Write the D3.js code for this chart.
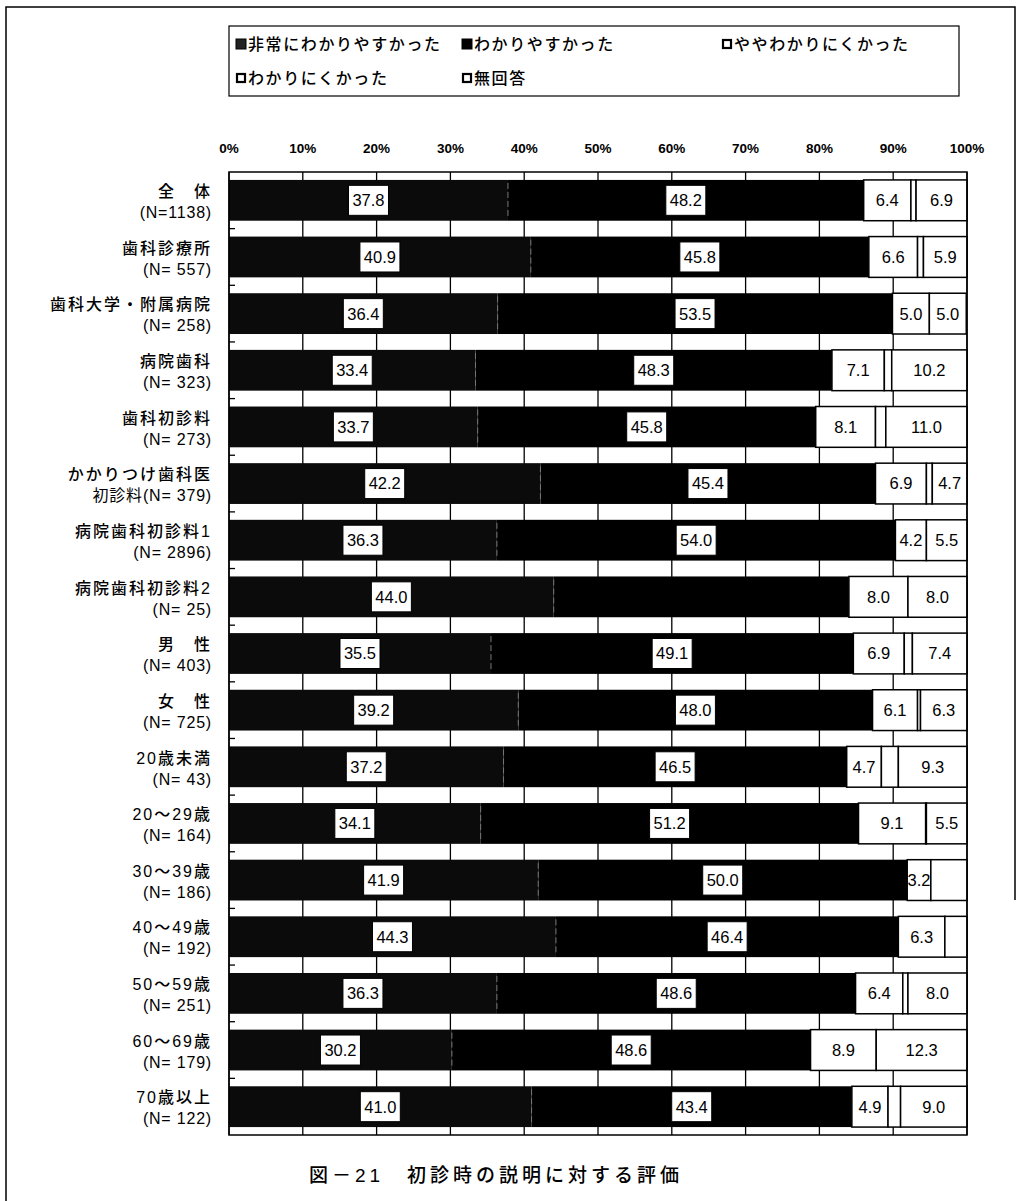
<!DOCTYPE html>
<html><head><meta charset="utf-8">
<script src="https://cdn.jsdelivr.net/npm/d3@7/dist/d3.min.js"></script>
<style>
html,body{margin:0;padding:0;background:#fff;}
svg{display:block;}
text{font-family:"Liberation Sans","Noto Sans CJK JP",sans-serif;fill:#000;}
</style></head>
<body>
<script>
// ---- data ----
const seriesNames = ["非常にわかりやすかった","わかりやすかった","ややわかりにくかった","わかりにくかった","無回答"];
const categoryLine1 = ["全　体","歯科診療所","歯科大学・附属病院","病院歯科","歯科初診料","かかりつけ歯科医","病院歯科初診料1","病院歯科初診料2","男　性","女　性","20歳未満","20～29歳","30～39歳","40～49歳","50～59歳","60～69歳","70歳以上"];
const categoryLine2 = ["(N=1138)","(N= 557)","(N= 258)","(N= 323)","(N= 273)","初診料(N= 379)","(N= 2896)","(N= 25)","(N= 403)","(N= 725)","(N= 43)","(N= 164)","(N= 186)","(N= 192)","(N= 251)","(N= 179)","(N= 122)"];
const veryEasy   = [37.8,40.9,36.4,33.4,33.7,42.2,36.3,44.0,35.5,39.2,37.2,34.1,41.9,44.3,36.3,30.2,41.0];
const easy       = [48.2,45.8,53.5,48.3,45.8,45.4,54.0,40.0,49.1,48.0,46.5,51.2,50.0,46.4,48.6,48.6,43.4];
const ratherHard = [6.4,6.6,5.0,7.1,8.1,6.9,4.2,8.0,6.9,6.1,4.7,9.1,3.2,6.3,6.4,8.9,4.9];
const hard       = [0.7,0.8,0.0,1.0,1.4,0.8,0.0,0.0,1.1,0.4,2.3,0.1,4.9,3.0,0.7,0.0,1.7];
const noAnswer   = [6.9,5.9,5.0,10.2,11.0,4.7,5.5,8.0,7.4,6.3,9.3,5.5,0.0,0.0,8.0,12.3,9.0];
const tickValues = [0,10,20,30,40,50,60,70,80,90,100];
const title = "図－21　初診時の説明に対する評価";
// labels not printed in the reference: [row, series]
const hiddenLabels = [[7,1]];

// ---- layout ----
const W = 1020, H = 1201;
const svg = d3.select("body").append("svg").attr("width", W).attr("height", H);

const rows = categoryLine1.map((c, i) => ({
  idx: i, l1: categoryLine1[i], l2: categoryLine2[i],
  s0: veryEasy[i], s1: easy[i], s2: ratherHard[i], s3: hard[i], s4: noAnswer[i]
}));
const keys = ["s0","s1","s2","s3","s4"];
const stack = d3.stack().keys(keys)(rows);

const x = d3.scaleLinear().domain([0,100]).range([229, 967]);
const y = d3.scaleBand().domain(rows.map(r => r.idx)).range([172, 1135]).paddingInner(0.28).paddingOuter(0.14);

// outer frame
svg.append("path").attr("d", "M6,1201 V7 H1015 V900").attr("fill","none").attr("stroke","#000").attr("stroke-width",1.5);

// legend
svg.append("rect").attr("x",229).attr("y",26).attr("width",730).attr("height",70)
  .attr("fill","none").attr("stroke","#000").attr("stroke-width",1.2);
const legendPos = [[241,44],[467,44],[727,44],[241,78],[467,78]];
seriesNames.forEach((n, i) => {
  const [lx, ly] = legendPos[i];
  const g = svg.append("g");
  if (i < 2) {
    g.append("rect").attr("x",lx-5).attr("y",ly-5).attr("width",10).attr("height",10)
      .attr("fill", i === 0 ? "#222" : "#000").attr("stroke","#000").attr("stroke-width",1);
  } else {
    g.append("rect").attr("x",lx-4).attr("y",ly-4).attr("width",8).attr("height",8)
      .attr("fill","#fff").attr("stroke","#000").attr("stroke-width",2.2);
  }
  g.append("text").attr("x",lx+7).attr("y",ly).attr("dy","0.36em")
    .attr("font-size",16).attr("font-weight",500).attr("letter-spacing","1.6px").text(n);
});

// gridlines
svg.append("g").selectAll("line").data(tickValues).join("line")
  .attr("x1", d => x(d)).attr("x2", d => x(d)).attr("y1",172).attr("y2",1135)
  .attr("stroke","#000").attr("stroke-width",1.3);

// top axis labels
svg.append("g").selectAll("text").data(tickValues).join("text")
  .attr("x", d => x(d)).attr("y",148).attr("dy","0.36em").attr("text-anchor","middle")
  .attr("font-size",13.5).attr("font-weight","bold").text(d => d + "%");

// left band ticks
svg.append("g").selectAll("line").data(d3.range(1, rows.length)).join("line")
  .attr("x1",229).attr("x2",235)
  .attr("y1", i => y(i) - y.step()*y.paddingInner()/2).attr("y2", i => y(i) - y.step()*y.paddingInner()/2)
  .attr("stroke","#000").attr("stroke-width",1.3);

// bars
const fills = ["#0b0b0b","#000","#fff","#fff","#fff"];
stack.forEach((layer, si) => {
  const g = svg.append("g");
  g.selectAll("rect").data(layer).join("rect")
    .attr("x", d => x(d[0])).attr("width", d => Math.max(0, x(d[1]) - x(d[0])))
    .attr("y", d => y(d.data.idx)).attr("height", y.bandwidth())
    .attr("fill", fills[si])
    .attr("stroke", si < 2 ? "none" : "#000").attr("stroke-width", 1.5)
    .attr("display", d => (d[1] - d[0]) > 0 ? null : "none");
});
// separator between first two black segments
svg.append("g").selectAll("line").data(stack[0]).join("line")
  .attr("x1", d => x(d[1])).attr("x2", d => x(d[1]))
  .attr("y1", d => y(d.data.idx)+3).attr("y2", d => y(d.data.idx)+y.bandwidth()-3)
  .attr("stroke","#777").attr("stroke-width",1).attr("stroke-dasharray","6,3");

// plot border
svg.append("rect").attr("x",229).attr("y",172).attr("width",738).attr("height",963)
  .attr("fill","none").attr("stroke","#000").attr("stroke-width",1.5);

// value labels
const isHidden = (r, s) => hiddenLabels.some(h => h[0] === r && h[1] === s);
stack.forEach((layer, si) => {
  if (si === 3) return; // わかりにくかった values are not printed
  layer.forEach(d => {
    const v = d[1] - d[0];
    if (v <= 0 || isHidden(d.data.idx, si)) return;
    const cx = (x(d[0]) + x(d[1])) / 2;
    const cy = y(d.data.idx) + y.bandwidth()/2;
    const label = d.data[keys[si]].toFixed(1);
    if (si < 2) {
      svg.append("rect").attr("x", cx-20).attr("y", cy-15).attr("width",40).attr("height",30)
        .attr("fill","#fff").attr("stroke","#000").attr("stroke-width",1);
    }
    svg.append("text").attr("x",cx).attr("y",cy).attr("dy","0.36em").attr("text-anchor","middle")
      .attr("font-size",16.5).text(label);
  });
});

// category labels
const cg = svg.append("g");
rows.forEach(r => {
  const cy = y(r.idx) + y.bandwidth()/2;
  cg.append("text").attr("x",212).attr("y",cy-9).attr("dy","0.36em").attr("text-anchor","end")
    .attr("font-size",16).attr("font-weight",500).attr("letter-spacing","2px").text(r.l1);
  cg.append("text").attr("x",212).attr("y",cy+12).attr("dy","0.36em").attr("text-anchor","end")
    .attr("font-size",16).attr("letter-spacing","0.8px").text(r.l2);
});

// title
svg.append("text").attr("x",496).attr("y",1175).attr("dy","0.36em").attr("text-anchor","middle")
  .attr("font-size",19).attr("font-weight",500).attr("letter-spacing","4px").text(title);
</script>
</body></html>
